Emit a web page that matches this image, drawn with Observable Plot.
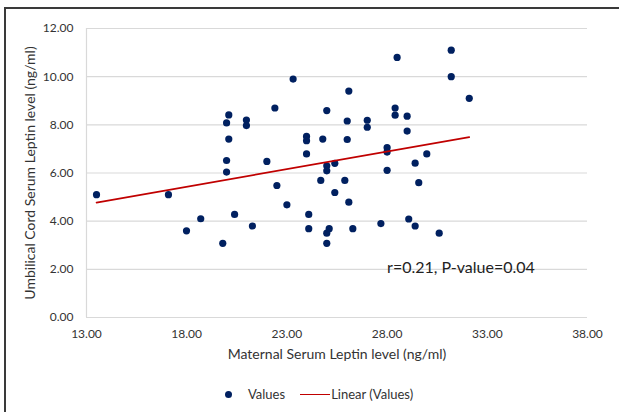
<!DOCTYPE html>
<html>
<head>
<meta charset="utf-8">
<script src="https://cdn.jsdelivr.net/npm/d3@7"></script>
<script src="https://cdn.jsdelivr.net/npm/@observablehq/plot@0.6"></script>
<style>
  html, body { margin: 0; padding: 0; background: #fff; }
  #wrap { position: relative; width: 619px; height: 412px; overflow: hidden; font-family: Lato, "Open Sans", sans-serif; }
  #border { position: absolute; left: 4px; top: 7px; width: 700px; height: 500px; border-left: 2px solid #3a3a3a; border-top: 2px solid #3a3a3a; }
  #chart { position: absolute; left: 0; top: 0; }
  #legend { position: absolute; left: 225px; top: 385px; height: 18px; display: flex; align-items: center; font-size: 13px; color: #333; }
  #legend .dot { width: 7px; height: 7px; border-radius: 50%; background: #002060; margin-right: 16px; }
  #legend .line { width: 30px; height: 0; border-top: 1.6px solid #C00000; margin-left: 15px; margin-right: 1px; }
</style>
</head>
<body>
<div id="wrap">
  <div id="border"></div>
  <div id="chart"></div>
  <div id="legend"><span class="dot"></span><span>Values</span><span class="line"></span><span>Linear (Values)</span></div>
</div>
<script>
// Maternal serum leptin (x) and umbilical cord serum leptin (y), ng/ml
const maternal = [13.50, 17.09, 17.99, 18.70, 19.80, 19.99, 19.99, 20.10, 19.99, 20.10,
  20.39, 20.98, 20.98, 21.28, 22.00, 22.40, 22.50, 23.00, 23.31, 23.98,
  23.98, 23.98, 24.09, 24.09, 24.69, 24.79, 24.99, 24.99, 24.99, 24.99,
  25.11, 24.99, 25.39, 25.39, 25.89, 26.01, 26.01, 26.09, 26.09, 26.29,
  27.01, 27.01, 27.69, 28.00, 28.00, 28.00, 28.40, 28.40, 28.50, 29.00,
  29.00, 29.08, 29.40, 29.40, 29.58, 29.98, 30.60, 31.20, 31.20, 32.10];
const cord = [5.10, 5.10, 3.60, 4.10, 3.08, 6.04, 6.52, 7.41, 8.08, 8.41,
  4.28, 8.20, 7.97, 3.80, 6.48, 8.70, 5.48, 4.68, 9.90, 7.52,
  7.34, 6.79, 4.28, 3.69, 5.69, 7.41, 8.59, 6.30, 6.09, 3.50,
  3.69, 3.08, 6.40, 5.19, 5.69, 8.16, 7.39, 9.40, 4.79, 3.69,
  8.19, 7.90, 3.90, 7.05, 6.87, 6.11, 8.70, 8.40, 10.80, 8.36,
  7.74, 4.09, 6.41, 3.80, 5.60, 6.79, 3.50, 11.10, 10.00, 9.10];
const xTicks = [13, 18, 23, 28, 33, 38];
const yTicks = [0, 2, 4, 6, 8, 10, 12];
const xTitle = "Maternal Serum Leptin level (ng/ml)";
const yTitle = "Umbilical Cord Serum Leptin level (ng/ml)";
const annotationText = ["r=0.21, P-value=0.04"];
const annotationX = [28.0];
const annotationY = [2.05];

const points = maternal.map((m, i) => ({x: m, y: cord[i]}));
const notes = annotationText.map((t, i) => ({text: t, x: annotationX[i], y: annotationY[i]}));

const chart = Plot.plot({
  width: 619,
  height: 372,
  marginTop: 28,
  marginBottom: 55,
  marginLeft: 86,
  marginRight: 32,
  style: {fontFamily: "Lato, 'Open Sans', sans-serif", fontSize: "12px", color: "#333", background: "transparent"},
  x: {domain: [xTicks[0], xTicks[xTicks.length - 1]]},
  y: {domain: [yTicks[0], yTicks[yTicks.length - 1]]},
  marks: [
    Plot.gridY(yTicks, {stroke: "#D9D9D9", strokeOpacity: 1, strokeWidth: 1.2}),
    Plot.ruleX([xTicks[0]], {y1: yTicks[0], y2: yTicks[yTicks.length - 1], stroke: "#D9D9D9", strokeWidth: 1.2}),
    Plot.axisX(xTicks, {tickSize: 0, tickPadding: 12, tickFormat: d3.format(".2f"), label: null, fill: "#333"}),
    Plot.axisY(yTicks, {tickSize: 0, tickPadding: 13, tickFormat: d3.format(".2f"), label: null, fill: "#333"}),
    Plot.text([xTitle], {frameAnchor: "bottom", dy: 41, fontSize: 14, fill: "#333"}),
    Plot.text([yTitle], {frameAnchor: "left", textAnchor: "middle", rotate: -90, dx: -56, fontSize: 14, fill: "#333"}),
    Plot.dot(points, {x: "x", y: "y", r: 3.6, fill: "#002060", stroke: "none"}),
    Plot.linearRegressionY(points, {x: "x", y: "y", stroke: "#C00000", strokeWidth: 1.6, ci: 0}),
    Plot.text(notes, {x: "x", y: "y", text: "text", textAnchor: "start", fontSize: 16, fill: "#222"})
  ]
});
document.getElementById("chart").appendChild(chart);
</script>
</body>
</html>
